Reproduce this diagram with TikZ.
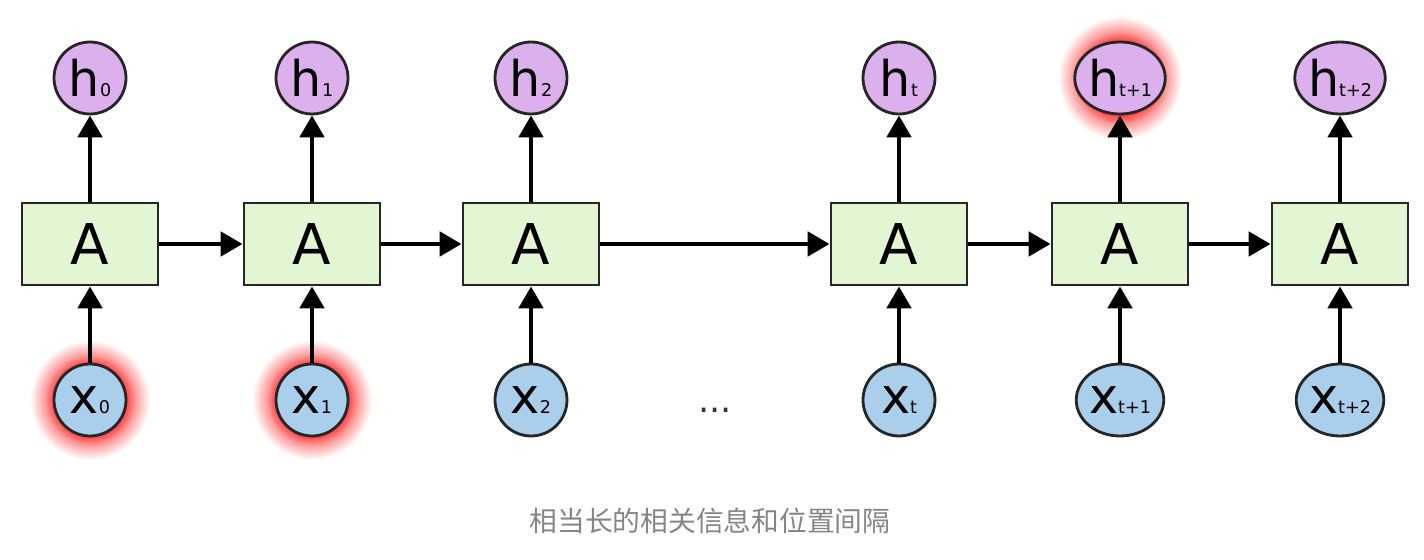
\documentclass[tikz,border=0pt]{standalone}
\usepackage{fontspec}
\setmainfont{DejaVu Sans}
\newfontfamily\cjk{Noto Sans CJK SC}
\usetikzlibrary{arrows.meta}
\usetikzlibrary{shapes.geometric}
\usetikzlibrary{backgrounds}

\definecolor{cellgreen}{HTML}{E3F6D3}
\definecolor{hpurple}{HTML}{DCB0EC}
\definecolor{xblue}{HTML}{A9CFEC}
\definecolor{capgray}{HTML}{858585}
\pgfdeclareradialshading{redglow}{\pgfpoint{0bp}{0bp}}{color(0bp)=(red!75!white); color(15bp)=(red!75!white); color(19bp)=(red!38!white); color(25bp)=(white); color(50bp)=(white)}
\newcommand{\seqlabel}[2]{{\fontsize{28}{28}\selectfont #1}{\fontsize{10}{10}\selectfont #2}}

\begin{document}
\begin{tikzpicture}[
    cell/.style={draw=black!85, line width=1.6pt, fill=cellgreen, minimum width=2.72cm, minimum height=1.64cm, inner sep=0pt, font=\fontsize{32}{32}\selectfont},
    hnode/.style={ellipse, draw=black!85, line width=1.6pt, fill=hpurple, minimum height=1.44cm, inner sep=0pt},
    xnode/.style={hnode, fill=xblue},
    flow/.style={line width=2.8pt, -{Triangle[length=0.44cm, width=0.48cm]}}
  ]
    \useasboundingbox (0, 0) rectangle (28.48, 11.2);

    \foreach \n/\x/\s/\w in {0/1.8/0/1.44cm, 1/6.24/1/1.44cm, 2/10.62/2/1.44cm, 3/17.98/t/1.44cm, 4/22.4/t+1/1.58cm, 5/26.8/t+2/1.58cm} {
      \node [cell] (A\n) at (\x, 6.32) {A};
      \node [hnode, minimum width=\w] (h\n) at (\x, 9.64) {\seqlabel{h}{\s}};
      \node [xnode, minimum width=\w] (x\n) at (\x, 3.2) {\seqlabel{x}{\s}};
      \draw [flow] (x\n) -- (A\n);
      \draw [flow] (A\n) -- (h\n);
    }
    \foreach \a/\b in {0/1, 1/2, 2/3, 3/4, 4/5} {
      \draw [flow] (A\a) -- (A\b);
    }

    \begin{pgfonlayer}{background}
      \shade [shading=redglow] (x0.center) circle (1.2);
      \shade [shading=redglow] (x1.center) circle (1.2);
      \shade [shading=redglow] (h4.center) circle (1.24);
    \end{pgfonlayer}

    \node [font=\fontsize{20}{20}\selectfont, text=black!80] (dots) at (14.3, 3.0) {...};
    \node [font=\cjk\fontsize{15.8}{15.8}\selectfont, text=capgray] (caption) at (14.2, 0.78) {相当长的相关信息和位置间隔};
  \end{tikzpicture}
\end{document}
